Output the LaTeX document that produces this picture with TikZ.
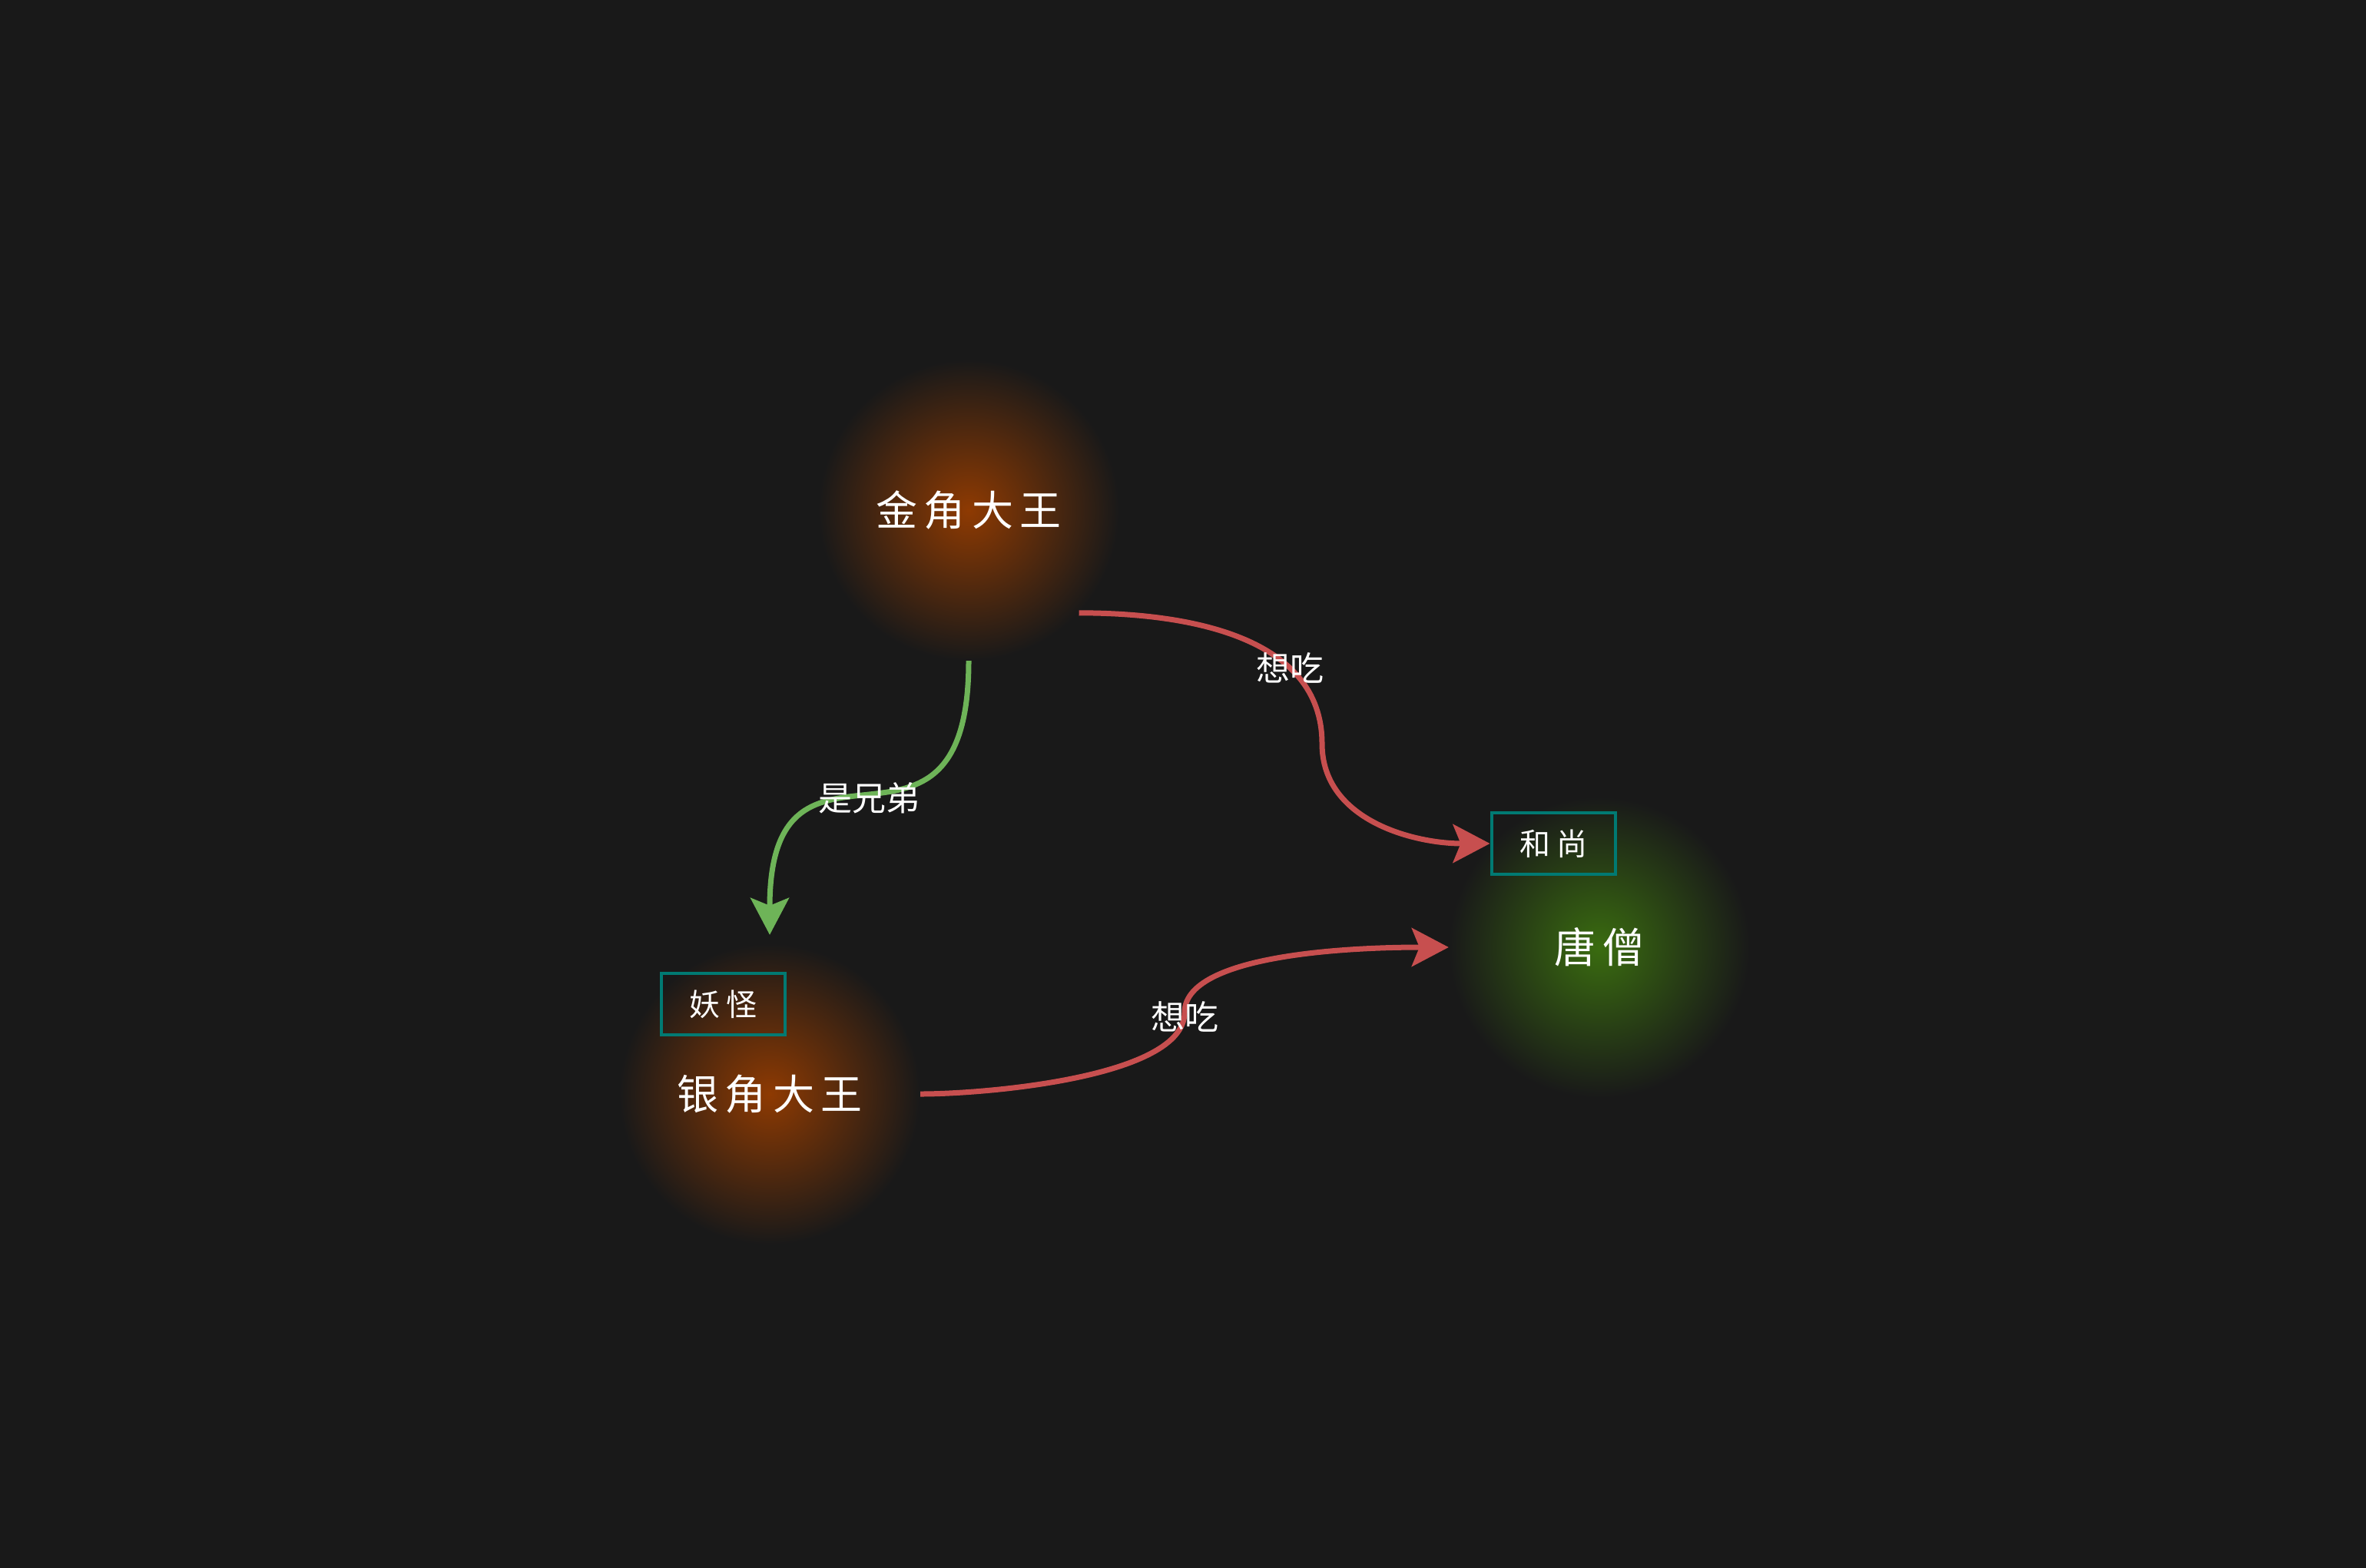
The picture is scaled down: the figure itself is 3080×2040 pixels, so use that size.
\documentclass[tikz,border=0pt]{standalone}
\usepackage{fontspec}
\newfontfamily\cjk{Noto Sans CJK SC}
\usepackage{tikz}
\usetikzlibrary{arrows.meta}
\definecolor{bg}{RGB}{25,25,25}
\definecolor{amber}{RGB}{142,58,2}
\definecolor{moss}{RGB}{58,108,16}
\definecolor{rust}{RGB}{199,79,79}
\definecolor{leaf}{RGB}{110,180,88}
\definecolor{tagline}{RGB}{0,122,115}
\tikzset{
  font=\cjk,
  % Set arrowhead
  >={Stealth[length=48pt, width=50pt, inset=10pt]},
  % Glowing character
  demon/.style={shape=circle, minimum size=392pt, inner sep=0pt,
    text=white, inner color=amber, outer color=bg,
    font=\cjk\fontsize{54}{60}\selectfont\addfontfeature{LetterSpace=15}},
  % Glowing character, other side
  monk/.style={demon, inner color=moss},
  % Tag box
  tag/.style={draw=tagline, line width=4pt, minimum width=161pt,
    minimum height=80pt, inner sep=0pt, text=white,
    font=\cjk\fontsize{40}{46}\selectfont\addfontfeature{LetterSpace=20}},
  % Arrows
  rel/.style={->, line width=7pt},
  % Arrow labels
  rellbl/.style={text=white, inner sep=0pt,
    font=\cjk\fontsize{44}{50}\selectfont},
}
\begin{document}
\begin{tikzpicture}[x=1pt, y=1pt]
  \useasboundingbox (0,0) rectangle (3080,-2040);
  \fill[bg] (-10,10) rectangle (3090,-2050);

  \node[demon] (jin) at (1261,-664) {金角大王};
  \node[demon] (yin) at (1002,-1424) {银角大王};
  \node[monk] (tang) at (2082,-1233) {唐僧};

  \node[tag] (yao) at (941,-1307) {妖怪};
  \node[tag] (he) at (2022,-1098) {和尚};

  \coordinate (bend1) at (1721,-968);
  \coordinate (bend2) at (1542,-1318);

  \draw[rel, leaf] (jin.south) to[out=-90, in=90, looseness=1.8]
    node[rellbl] {是兄弟} ([yshift=11pt]yin.north);
  \draw[rel, rust] (jin.-43) to[out=0, in=90] node[rellbl, pos=0.7] {想吃}
    (bend1) to[out=-90, in=180] (he.west);
  \draw[rel, rust] (yin.east) to[out=0, in=-90, looseness=0.6] (bend2)
    node[rellbl, yshift=-5pt] {想吃} to[out=90, in=180, looseness=0.6] (tang.west);
\end{tikzpicture}
\end{document}
